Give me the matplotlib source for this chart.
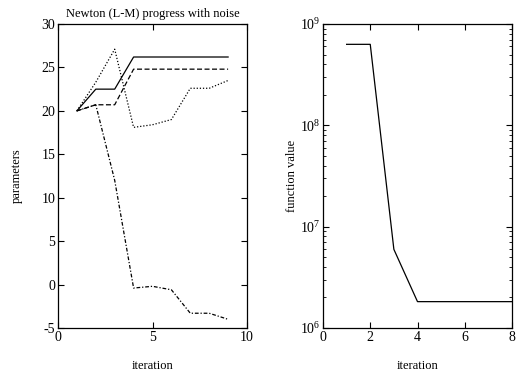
import matplotlib

matplotlib.use("Agg")
import matplotlib.pyplot as plt

plt.rcParams["font.family"] = ["Liberation Serif", "DejaVu Serif"]
plt.rcParams["mathtext.fontset"] = "stix"
plt.rcParams["axes.unicode_minus"] = False

# parameter traces (iteration 1..9)
iters = [1, 2, 3, 4, 5, 6, 7, 8, 9]
p_solid = [20.0, 22.5, 22.5, 26.2, 26.2, 26.2, 26.2, 26.2, 26.2]
p_dashed = [20.0, 20.7, 20.7, 24.8, 24.8, 24.8, 24.8, 24.8, 24.8]
p_dotted = [20.0, 23.3, 27.1, 18.1, 18.4, 19.0, 22.6, 22.6, 23.5]
p_dashdot = [20.0, 20.7, 12.0, -0.4, -0.2, -0.6, -3.3, -3.3, -4.0]

# function value (iteration 1..8)
f_iters = [1, 2, 3, 4, 5, 6, 7, 8]
f_vals = [6.3e8, 6.3e8, 5.97e6, 1.82e6, 1.82e6, 1.82e6, 1.82e6, 1.82e6]

fig = plt.figure(figsize=(5.17, 3.73), dpi=100)
ax1 = fig.add_axes([58 / 517, 45 / 373, 189 / 517, 304 / 373])
ax2 = fig.add_axes([323 / 517, 45 / 373, 189 / 517, 304 / 373])

lw = 0.9
ax1.plot(iters, p_solid, "-", color="black", lw=lw)
ax1.plot(iters, p_dashed, color="black", lw=lw, dashes=(4, 2))
ax1.plot(iters, p_dotted, color="black", lw=lw, dashes=(1, 1.5))
ax1.plot(iters, p_dashdot, color="black", lw=lw, dashes=(3, 1.5, 1, 1.5))
ax1.set_xlim(0, 10)
ax1.set_ylim(-5, 30)
ax1.set_xticks([0, 5, 10])
ax1.set_yticks([-5, 0, 5, 10, 15, 20, 25, 30])
ax1.set_title("Newton (L-M) progress with noise", fontsize=9, pad=5)
ax1.set_xlabel("iteration", fontsize=9, labelpad=12)
ax1.set_ylabel("parameters", fontsize=9, labelpad=13)

ax2.plot(f_iters, f_vals, "-", color="black", lw=lw)
ax2.set_yscale("log")
ax2.set_xlim(0, 8)
ax2.set_ylim(1e6, 1e9)
ax2.set_xticks([0, 2, 4, 6, 8])
ax2.set_xlabel("iteration", fontsize=9, labelpad=12)
ax2.set_ylabel("function value", fontsize=9, labelpad=1)

for ax in (ax1, ax2):
    ax.tick_params(direction="in", which="both", top=True, right=True,
                   labelsize=10, pad=2)
    ax.tick_params(which="major", length=4)
    ax.tick_params(which="minor", length=2.5)
    for s in ax.spines.values():
        s.set_linewidth(0.9)

fig.savefig("out.png", dpi=100)
